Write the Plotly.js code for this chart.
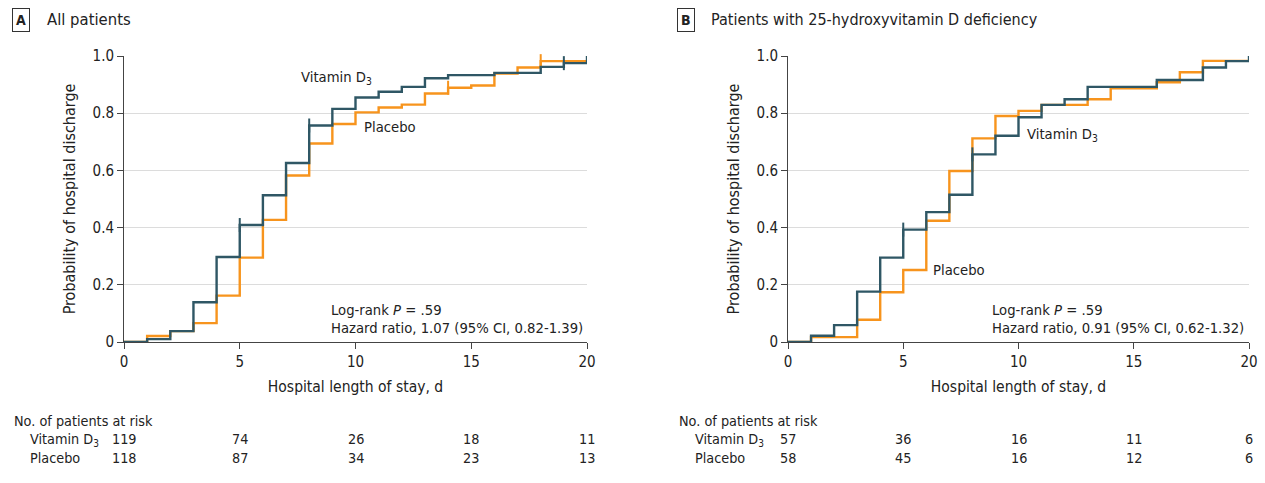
<!DOCTYPE html>
<html>
<head>
<meta charset="utf-8">
<script src="https://cdn.plot.ly/plotly-3.0.1.min.js"></script>
<style>html,body{margin:0;padding:0;background:#fff;}#chart{width:1265px;height:483px;}</style>
</head>
<body>
<div id="chart"></div>
<script>
// ---- Data ----
const daysVitA = [0,1,2,3,4,5,6,7,8,9,10,11,12,13,14,16,18,19,20];
const probVitA = [0,0.010,0.038,0.139,0.297,0.409,0.513,0.626,0.757,0.815,0.855,0.875,0.892,0.922,0.933,0.941,0.962,0.975,1.0];
const daysPlaA = [0,1,2,3,4,5,6,7,8,9,10,11,12,13,14,15,16,17,18,20];
const probPlaA = [0,0.021,0.038,0.066,0.162,0.295,0.427,0.582,0.694,0.762,0.803,0.820,0.830,0.869,0.889,0.897,0.939,0.960,0.982,0.982];
const daysVitB = [0,1,2,3,4,5,6,7,8,9,10,11,12,13,16,18,19,20];
const probVitB = [0,0.022,0.059,0.176,0.295,0.393,0.454,0.515,0.656,0.721,0.786,0.829,0.849,0.892,0.916,0.960,0.982,1.0];
const daysPlaB = [0,1,3,4,5,6,7,8,9,10,11,13,14,16,17,18,20];
const probPlaB = [0,0.017,0.078,0.174,0.252,0.424,0.598,0.712,0.790,0.808,0.829,0.849,0.887,0.908,0.943,0.983,0.983];

const censorVitA = [5,8,19];
const censorPlaA = [14,18];
const censorVitB = [5,8];
const censorPlaB = [];

const riskTimes = [0,5,10,15,20];
const riskVitA = [119,74,26,18,11];
const riskPlaA = [118,87,34,23,13];
const riskVitB = [57,36,16,11,6];
const riskPlaB = [58,45,16,12,6];

const yTicks = [0,0.2,0.4,0.6,0.8,1.0];
const yTickText = ["0","0.2","0.4","0.6","0.8","1.0"];
const xTicks = [0,5,10,15,20];

const hrA = "Hazard ratio, 1.07 (95% CI, 0.82-1.39)";
const hrB = "Hazard ratio, 0.91 (95% CI, 0.62-1.32)";
const pText = "Log-rank <i>P</i> = .59";

// ---- Style ----
const DARK = "#2f5765";
const ORANGE = "#f7941d";
const FONT = "Liberation Sans Narrow, DejaVu Sans Condensed, Arial Narrow, sans-serif";
const TXT = "#222";

function stepAt(days, probs, t){
  let v = probs[0];
  for (let i=0;i<days.length;i++){ if (days[i] <= t) v = probs[i]; }
  return v;
}

function curve(days, probs, color, xa, ya){
  return {x: days, y: probs, xaxis: xa, yaxis: ya, type: "scatter", mode: "lines",
    line: {shape: "hv", color: color, width: 2.4}, hoverinfo: "skip", showlegend: false, cliponaxis: false};
}
function censor(cd, days, probs, color, xa, ya){
  return {x: cd, y: cd.map(t => stepAt(days, probs, t)), xaxis: xa, yaxis: ya, type: "scatter", mode: "markers",
    marker: {symbol: "line-ns", size: 10, line: {color: color, width: 2}}, hoverinfo: "skip", showlegend: false, cliponaxis: false};
}

const traces = [
  curve(daysPlaA, probPlaA, ORANGE, "x", "y"),
  censor(censorPlaA, daysPlaA, probPlaA, ORANGE, "x", "y"),
  curve(daysVitA, probVitA, DARK, "x", "y"),
  censor(censorVitA, daysVitA, probVitA, DARK, "x", "y"),
  curve(daysPlaB, probPlaB, ORANGE, "x2", "y2"),
  censor(censorPlaB, daysPlaB, probPlaB, ORANGE, "x2", "y2"),
  curve(daysVitB, probVitB, DARK, "x2", "y2"),
  censor(censorVitB, daysVitB, probVitB, DARK, "x2", "y2"),
];

const W = 1265, H = 483;
const px = v => v / W;
const py = v => (H - v) / H;

function xaxis(d0, d1){
  return {domain: [px(d0), px(d1)], range: [0, 20], tickvals: xTicks, ticks: "outside", ticklen: 6, tickwidth: 1, tickcolor: "#444",
    showline: true, linecolor: "#444", linewidth: 1, showgrid: false, zeroline: false, fixedrange: true,
    tickfont: {family: FONT, size: 15, color: TXT},
    title: {text: "Hospital length of stay, d", font: {family: FONT, size: 15.5, color: TXT}, standoff: 11}};
}
function yaxis(anchor){
  return {domain: [py(342), py(56)], range: [0, 1.0], anchor: anchor, tickvals: yTicks, ticktext: yTickText, ticks: "outside", ticklen: 6,
    tickwidth: 1, tickcolor: "#444", showline: true, linecolor: "#444", linewidth: 1, showgrid: true, gridcolor: "#dcdcdc", gridwidth: 1.2,
    zeroline: false, fixedrange: true, tickfont: {family: FONT, size: 15, color: TXT},
    title: {text: "Probability of hospital discharge", font: {family: FONT, size: 16, color: TXT}, standoff: 12}};
}

const ann = [];
function txt(text, x, y, xref, yref, opts){
  ann.push(Object.assign({text: text, x: x, y: y, xref: xref, yref: yref, showarrow: false, xanchor: "left", yanchor: "middle",
    font: {family: FONT, size: 14.7, color: TXT}}, opts || {}));
}
// panel headers
txt("<b>A</b>", px(21), py(20), "paper", "paper", {xanchor: "center", bordercolor: "#333", borderwidth: 1, borderpad: 3, font: {family: FONT, size: 14, color: TXT}});
txt("All patients", px(45), py(19), "paper", "paper", {font: {family: FONT, size: 16.5, color: TXT}});
txt("<b>B</b>", px(686), py(20), "paper", "paper", {xanchor: "center", bordercolor: "#333", borderwidth: 1, borderpad: 3, font: {family: FONT, size: 14, color: TXT}});
txt("Patients with 25-hydroxyvitamin D deficiency", px(709), py(19), "paper", "paper", {font: {family: FONT, size: 16, color: TXT}});

// curve labels
txt("Vitamin D<sub>3</sub>", 7.55, 0.925, "x", "y");
txt("Placebo", 10.3, 0.752, "x", "y");
txt("Placebo", 6.2, 0.255, "x2", "y2");
txt("Vitamin D<sub>3</sub>", 10.3, 0.725, "x2", "y2");

// stats
txt(pText, 8.85, 0.115, "x", "y");
txt(hrA, 8.85, 0.049, "x", "y");
txt(pText, 8.75, 0.115, "x2", "y2");
txt(hrB, 8.75, 0.049, "x2", "y2");

// risk tables
function riskTable(xa, left, vit, pla){
  txt("No. of patients at risk", px(left), py(421), "paper", "paper", {font: {family: FONT, size: 14.3, color: TXT}});
  txt("Vitamin D<sub>3</sub>", px(left + 16), py(440), "paper", "paper", {font: {family: FONT, size: 14.3, color: TXT}});
  txt("Placebo", px(left + 16), py(458), "paper", "paper", {font: {family: FONT, size: 14.3, color: TXT}});
  riskTimes.forEach((t, i) => {
    txt(String(vit[i]), t, py(439), xa, "paper", {xanchor: "center", font: {family: FONT, size: 14.3, color: TXT}});
    txt(String(pla[i]), t, py(458), xa, "paper", {xanchor: "center", font: {family: FONT, size: 14.3, color: TXT}});
  });
}
riskTable("x", 12, riskVitA, riskPlaA);
riskTable("x2", 677, riskVitB, riskPlaB);

const layout = {
  width: W, height: H, margin: {l: 0, r: 0, t: 0, b: 0},
  paper_bgcolor: "#fff", plot_bgcolor: "#fff", showlegend: false,
  xaxis: Object.assign(xaxis(124, 587), {anchor: "y"}),
  yaxis: yaxis("x"),
  xaxis2: Object.assign(xaxis(788, 1249), {anchor: "y2"}),
  yaxis2: yaxis("x2"),
  annotations: ann,
  font: {family: FONT, color: TXT}
};

Plotly.newPlot("chart", traces, layout, {displayModeBar: false, staticPlot: true});
</script>
</body>
</html>
